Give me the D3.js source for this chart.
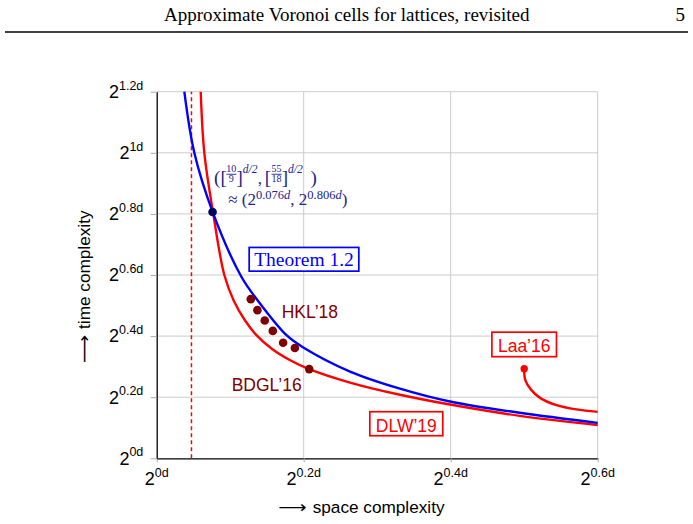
<!DOCTYPE html>
<html>
<head>
<meta charset="utf-8">
<script src="https://cdn.jsdelivr.net/npm/d3@7"></script>
<style>
body { margin: 0; background: #fff; }
</style>
</head>
<body>
<div id="chart-area"></div>
<script>
// exponents of 2, in units of d
const xTicks = [0, 0.2, 0.4, 0.6];
const xTickLabels = ["0d", "0.2d", "0.4d", "0.6d"];
const yTicks = [0, 0.2, 0.4, 0.6, 0.8, 1, 1.2];
const yTickLabels = ["0d", "0.2d", "0.4d", "0.6d", "0.8d", "1d", "1.2d"];

const theoremCurve = [
    [0.0376, 1.2], [0.0512, 1.0], [0.0762, 0.806], [0.115, 0.595], [0.138, 0.515],
    [0.177, 0.402], [0.2, 0.362], [0.263, 0.284], [0.331, 0.228], [0.399, 0.186],
    [0.494, 0.149], [0.6, 0.116]
];
const dlwCurve = [
    [0.0599, 1.2], [0.0648, 1.0], [0.0766, 0.806], [0.092, 0.6], [0.105, 0.515],
    [0.12, 0.452], [0.135, 0.405], [0.157, 0.358], [0.181, 0.322], [0.2075, 0.292],
    [0.263, 0.248], [0.331, 0.208], [0.399, 0.176], [0.494, 0.139], [0.6, 0.109]
];
const laaCurve = [
    [0.5, 0.293], [0.5015, 0.256], [0.5095, 0.224], [0.522, 0.197],
    [0.544, 0.174], [0.571, 0.16], [0.6, 0.152]
];
const hklPoints = [
    [0.128, 0.521], [0.137, 0.485], [0.147, 0.451], [0.158, 0.417], [0.172, 0.378], [0.188, 0.361]
];
const bdglPoint = [0.2075, 0.292];
const laaPoint = [0.5, 0.293];
const crossPoint = [0.076, 0.806];
const spaceBound = 0.0473;

const margin = { top: 91.7, right: 95.3, bottom: 65.7, left: 156.7 };
const width = 693 - margin.left - margin.right;
const height = 524 - margin.top - margin.bottom;

const svg = d3.select("#chart-area").append("svg")
    .attr("width", 693)
    .attr("height", 524);

const sans = "'Liberation Sans', Arial, sans-serif";
const serif = "'Liberation Serif', 'Times New Roman', serif";

// page header
svg.append("text")
    .attr("x", 164)
    .attr("y", 20.5)
    .attr("font-family", serif)
    .attr("font-size", 19)
    .text("Approximate Voronoi cells for lattices, revisited");
svg.append("text")
    .attr("x", 685)
    .attr("y", 20.5)
    .attr("text-anchor", "end")
    .attr("font-family", serif)
    .attr("font-size", 19)
    .text("5");
svg.append("line")
    .attr("x1", 5).attr("x2", 688)
    .attr("y1", 32).attr("y2", 32)
    .attr("stroke", "#000")
    .attr("stroke-width", 1.6);

const g = svg.append("g")
    .attr("transform", `translate(${margin.left}, ${margin.top})`);

const x = d3.scaleLinear().domain([0, 0.6]).range([0, width]);
const y = d3.scaleLinear().domain([0, 1.2]).range([height, 0]);

// grid
g.selectAll(".vgrid").data(xTicks.slice(1)).enter()
    .append("line")
    .attr("x1", d => x(d)).attr("x2", d => x(d))
    .attr("y1", 0).attr("y2", height)
    .attr("stroke", "#cccccc");
g.selectAll(".hgrid").data(yTicks.slice(1)).enter()
    .append("line")
    .attr("x1", 0).attr("x2", width)
    .attr("y1", d => y(d)).attr("y2", d => y(d))
    .attr("stroke", "#cccccc");

// axes
const xAxisCall = d3.axisBottom(x).tickValues(xTicks).tickSize(4).tickSizeOuter(0).tickFormat("");
const xAxis = g.append("g")
    .attr("class", "x axis")
    .attr("transform", `translate(0, ${height})`)
    .call(xAxisCall);
const yAxisCall = d3.axisLeft(y).tickValues(yTicks).tickSize(6).tickSizeOuter(0).tickFormat("");
const yAxis = g.append("g")
    .attr("class", "y axis")
    .call(yAxisCall);
[xAxis, yAxis].forEach(a => {
    a.select(".domain").attr("stroke", "#000").attr("stroke-width", 1.3);
    a.selectAll(".tick line").attr("stroke", "#aaaaaa");
    a.selectAll(".tick text").remove();
});

xTicks.forEach((d, i) => {
    const t = g.append("text")
        .attr("x", x(d))
        .attr("y", height + 26.7)
        .attr("text-anchor", "middle")
        .attr("font-family", sans);
    t.append("tspan").attr("font-size", 18).text("2");
    t.append("tspan").attr("font-size", 12.5).attr("dy", -8.3).text(xTickLabels[i]);
});
yTicks.forEach((d, i) => {
    const t = g.append("text")
        .attr("x", -13.4)
        .attr("y", y(d) + 6.4)
        .attr("text-anchor", "end")
        .attr("font-family", sans);
    t.append("tspan").attr("font-size", 18).text("2");
    t.append("tspan").attr("font-size", 12.5).attr("dy", -8.4).text(yTickLabels[i]);
});

// axis labels (long arrow stretched like the LaTeX \longrightarrow)
function axisLabel(txt, transform) {
    const lg = svg.append("g").attr("transform", transform)
        .attr("font-family", sans).attr("font-size", 17.2);
    lg.append("text")
        .attr("x", 0).attr("y", 0)
        .attr("font-family", "'DejaVu Sans'")
        .attr("textLength", 28.4)
        .attr("lengthAdjust", "spacingAndGlyphs")
        .text("\u27F6");
    lg.append("text")
        .attr("x", 34.4).attr("y", 0)
        .text(txt);
}
axisLabel("space complexity", "translate(278.3, 513)");
axisLabel("time complexity", "translate(90, 363.3) rotate(-90)");

// curves
g.append("clipPath").attr("id", "plot-clip")
    .append("rect").attr("y", -2).attr("width", width + 2).attr("height", height + 2);
const plot = g.append("g").attr("clip-path", "url(#plot-clip)");

plot.append("line")
    .attr("x1", x(spaceBound)).attr("x2", x(spaceBound))
    .attr("y1", y(0)).attr("y2", y(1.2))
    .attr("stroke", "#ff0000")
    .attr("stroke-width", 1.5)
    .attr("stroke-dasharray", "4,3");

const line = d3.line()
    .x(d => x(d[0]))
    .y(d => y(d[1]))
    .curve(d3.curveCatmullRom.alpha(0.5));

plot.append("path").datum(dlwCurve)
    .attr("d", line).attr("fill", "none")
    .attr("stroke", "#ff0000").attr("stroke-width", 2.4);
plot.append("path").datum(laaCurve)
    .attr("d", line).attr("fill", "none")
    .attr("stroke", "#ff0000").attr("stroke-width", 2.4);
plot.append("path").datum(theoremCurve)
    .attr("d", line).attr("fill", "none")
    .attr("stroke", "#0000ff").attr("stroke-width", 2.4);

// points
g.selectAll(".hkl").data(hklPoints.concat([bdglPoint])).enter()
    .append("circle")
    .attr("cx", d => x(d[0]))
    .attr("cy", d => y(d[1]))
    .attr("r", 4.3)
    .attr("fill", "#800000");
g.append("circle")
    .attr("cx", x(laaPoint[0])).attr("cy", y(laaPoint[1]))
    .attr("r", 3.7).attr("fill", "#ff0000");
g.append("circle")
    .attr("cx", x(crossPoint[0])).attr("cy", y(crossPoint[1]))
    .attr("r", 4.3).attr("fill", "#000066");

// labels
g.append("text")
    .attr("x", x(0.170)).attr("y", y(0.458))
    .attr("font-family", sans).attr("font-size", 17.5)
    .attr("fill", "#800000")
    .text("HKL\u201918");
g.append("text")
    .attr("x", x(0.102)).attr("y", y(0.220))
    .attr("font-family", sans).attr("font-size", 17.5)
    .attr("fill", "#800000")
    .text("BDGL\u201916");

function boxedLabel(txt, cx, base, color, family, size, padX, up, down) {
    const box = g.append("rect");
    const t = g.append("text")
        .attr("x", cx).attr("y", base)
        .attr("text-anchor", "middle")
        .attr("font-family", family).attr("font-size", size)
        .attr("fill", color)
        .text(txt);
    const w = t.node().getComputedTextLength();
    box.attr("x", cx - w / 2 - padX)
        .attr("y", base - up)
        .attr("width", w + 2 * padX)
        .attr("height", up + down)
        .attr("fill", "#fff")
        .attr("stroke", color)
        .attr("stroke-width", 1.7);
}
boxedLabel("Theorem 1.2", x(0.2004), y(0.629), "#0000ff", serif, 19.5, 5, 18.7, 5);
boxedLabel("Laa\u201916", x(0.5), y(0.349), "#ff0000", sans, 17.5, 6, 19.5, 5);
boxedLabel("DLW\u201919", x(0.3396), y(0.087), "#ff0000", sans, 17.5, 6, 20, 4);

// annotation next to the intersection point
const navy = "#23238c";
const ann = g.append("g")
    .attr("transform", `translate(${x(crossPoint[0])}, ${y(crossPoint[1])})`)
    .attr("font-family", serif)
    .attr("fill", navy);

function piece(txt, px, py, size, italic, anchor) {
    ann.append("text")
        .attr("x", px).attr("y", py)
        .attr("font-size", size)
        .attr("font-style", italic ? "italic" : "normal")
        .attr("text-anchor", anchor || "start")
        .text(txt);
}
function frac(num, den, cx) {
    piece(num, cx, -40, 10, false, "middle");
    piece(den, cx, -30, 10, false, "middle");
    ann.append("line")
        .attr("x1", cx - 5).attr("x2", cx + 5)
        .attr("y1", -37.8).attr("y2", -37.8)
        .attr("stroke", navy).attr("stroke-width", 0.9);
}
piece("(", 1.4, -28, 19);
piece("[", 8, -28, 19);
frac("10", "9", 18.8);
piece("]", 23.9, -28, 19);
piece("d/2", 30.3, -39, 11.5, true);
piece(",", 45.1, -28, 17);
piece("[", 52.3, -28, 19);
frac("55", "18", 64);
piece("]", 69.1, -28, 19);
piece("d/2", 75.5, -39, 11.5, true);
piece(")", 98, -28, 19);

const l2 = ann.append("text")
    .attr("x", 15.7).attr("y", -7)
    .attr("font-size", 17);
l2.append("tspan").text("\u2248 (2");
l2.append("tspan").attr("font-size", 12.5).attr("dy", -6.5).text("0.076");
l2.append("tspan").attr("font-size", 12.5).attr("font-style", "italic").text("d");
l2.append("tspan").attr("dy", 6.5).text(", 2");
l2.append("tspan").attr("font-size", 12.5).attr("dy", -6.5).text("0.806");
l2.append("tspan").attr("font-size", 12.5).attr("font-style", "italic").text("d");
l2.append("tspan").attr("dy", 6.5).text(")");
</script>
</body>
</html>
